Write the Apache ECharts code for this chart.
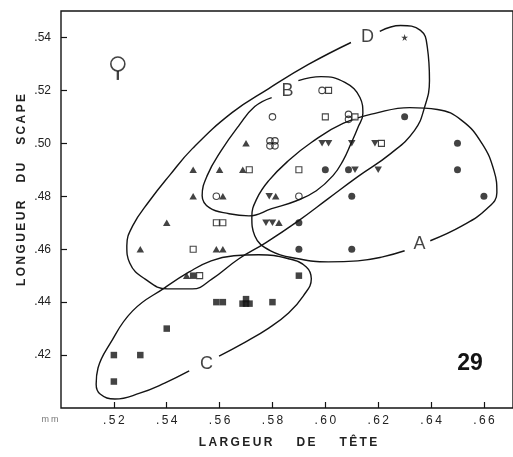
<!DOCTYPE html>
<html>
<head>
<meta charset="utf-8">
<script src="https://cdn.jsdelivr.net/npm/echarts@6/dist/echarts.min.js"></script>
<style>
  html, body { margin: 0; padding: 0; background: #fff; }
  #chart { width: 513px; height: 457px; }
</style>
</head>
<body>
<div id="chart"></div>
<script>
// points: [largeur de tête, longueur du scape] in mm
const filledCircles = [[0.63, 0.51], [0.65, 0.50], [0.65, 0.49], [0.66, 0.48], [0.60, 0.49], [0.61, 0.49], [0.61, 0.48], [0.59, 0.47], [0.59, 0.46], [0.61, 0.46]]
const openCircles = [[0.60, 0.52], [0.58, 0.51], [0.61, 0.51], [0.61, 0.51], [0.58, 0.50], [0.58, 0.50], [0.58, 0.50], [0.58, 0.50], [0.56, 0.48], [0.59, 0.48]]
const downTriangles = [[0.60, 0.50], [0.60, 0.50], [0.61, 0.50], [0.62, 0.50], [0.61, 0.49], [0.62, 0.49], [0.58, 0.48], [0.58, 0.47], [0.58, 0.47]]
const upTriangles = [[0.57, 0.50], [0.55, 0.49], [0.56, 0.49], [0.57, 0.49], [0.55, 0.48], [0.56, 0.48], [0.58, 0.48], [0.54, 0.47], [0.58, 0.47], [0.53, 0.46], [0.56, 0.46], [0.56, 0.46], [0.55, 0.45]]
const filledSquares = [[0.55, 0.45], [0.59, 0.45], [0.56, 0.44], [0.56, 0.44], [0.57, 0.44], [0.57, 0.44], [0.57, 0.44], [0.57, 0.44], [0.58, 0.44], [0.54, 0.43], [0.52, 0.42], [0.53, 0.42], [0.52, 0.41]]
const openSquares = [[0.60, 0.52], [0.60, 0.51], [0.61, 0.51], [0.62, 0.50], [0.57, 0.49], [0.59, 0.49], [0.56, 0.47], [0.56, 0.47], [0.55, 0.46], [0.55, 0.45]]
const stars = [[0.63, 0.54]]
const femaleSign = [[0.5215, 0.530]]

// hand-drawn envelopes (open where the letter sits)
const envelopeA = [[0.6397, 0.4632], [0.6517, 0.4688], [0.6611, 0.4753], [0.6649, 0.4813], [0.6638, 0.4897], [0.6593, 0.4999], [0.6517, 0.5086], [0.6424, 0.5128], [0.6319, 0.5135], [0.6199, 0.5116], [0.6067, 0.5075], [0.5947, 0.5003], [0.5861, 0.4935], [0.5786, 0.4859], [0.5741, 0.4791], [0.5722, 0.4723], [0.5733, 0.4651], [0.5793, 0.4594], [0.5898, 0.4564], [0.6011, 0.4552], [0.6123, 0.4556], [0.6217, 0.4571], [0.6300, 0.4594]]
const envelopeB = [[0.5898, 0.5237], [0.5984, 0.5252], [0.6074, 0.5230], [0.6131, 0.5173], [0.6142, 0.5112], [0.6123, 0.5059], [0.6097, 0.4999], [0.6067, 0.4935], [0.6029, 0.4878], [0.5966, 0.4821], [0.5891, 0.4783], [0.5797, 0.4753], [0.5711, 0.4726], [0.5636, 0.4734], [0.5561, 0.4757], [0.5534, 0.4802], [0.5553, 0.4878], [0.5606, 0.4972], [0.5673, 0.5067], [0.5733, 0.5139], [0.5797, 0.5173]]
const envelopeC = [[0.5598, 0.4196], [0.5692, 0.4246], [0.5786, 0.4302], [0.5861, 0.4359], [0.5917, 0.4424], [0.5947, 0.4488], [0.5928, 0.4533], [0.5861, 0.4564], [0.5748, 0.4579], [0.5654, 0.4575], [0.5568, 0.4556], [0.5485, 0.4514], [0.5392, 0.4454], [0.5271, 0.4367], [0.5185, 0.4242], [0.5140, 0.4151], [0.5133, 0.4090], [0.5148, 0.4053], [0.5204, 0.4034], [0.5298, 0.4056], [0.5392, 0.4094], [0.5485, 0.4140]]
const envelopeD = [[0.6206, 0.5423], [0.6285, 0.5445], [0.6360, 0.5427], [0.6386, 0.5362], [0.6394, 0.5237], [0.6375, 0.5135], [0.6337, 0.5048], [0.6247, 0.4961], [0.6123, 0.4874], [0.6011, 0.4791], [0.5898, 0.4707], [0.5774, 0.4624], [0.5673, 0.4564], [0.5572, 0.4488], [0.5497, 0.4450], [0.5403, 0.4450], [0.5317, 0.4488], [0.5260, 0.4548], [0.5249, 0.4613], [0.5271, 0.4688], [0.5335, 0.4783], [0.5410, 0.4878], [0.5497, 0.4980], [0.5647, 0.5116], [0.5786, 0.5207], [0.5936, 0.5298], [0.6097, 0.5381]]
const envelopeNames = ["A", "B", "C", "D"]
const envelopeNamePos = [[0.6356, 0.4620], [0.5857, 0.5196], [0.5550, 0.4166], [0.6160, 0.5400]]

const xTicks = { min: 0.50, max: 0.671, step: 0.02 }
const yTicks = { min: 0.40, max: 0.55, step: 0.02 }

const INK = "#141414"
const FONT = "Liberation Sans, Arial, sans-serif"

const spaced = (s, gap) =>
  s.split(" ").map((w) => [...w].join("\u2009")).join(gap || "\u2003\u2003")

// markers sharing a spot are set side by side, like in the drawing
const kinds = [
  { name: "filledCircles", data: filledCircles, symbol: "circle", size: 7, fill: INK, w: 6.5 },
  { name: "openCircles", data: openCircles, symbol: "circle", size: 6.5, fill: "rgba(0,0,0,0)", w: 6.5 },
  { name: "downTriangles", data: downTriangles, symbol: "triangle", size: [7.5, 6.5], fill: INK, w: 6.5, rotate: 180 },
  { name: "upTriangles", data: upTriangles, symbol: "triangle", size: [7.5, 6.5], fill: INK, w: 6.5 },
  { name: "filledSquares", data: filledSquares, symbol: "rect", size: 6.5, fill: INK, w: 6.5 },
  { name: "openSquares", data: openSquares, symbol: "rect", size: 6, fill: "#fff", w: 6.5 },
]

const offsets = kinds.map((k) => k.data.map(() => [0, 0]))
const spots = {}
kinds.forEach((k, ki) => {
  k.data.forEach((p, pi) => {
    const key = p[0].toFixed(2) + "," + p[1].toFixed(2)
    spots[key] = spots[key] || []
    let run = spots[key].find((r) => r.ki === ki)
    if (!run) {
      run = { ki, items: [] }
      spots[key].push(run)
    }
    run.items.push(pi)
  })
})
Object.values(spots).forEach((runs) => {
  const units = []
  runs.forEach((r) => {
    const k = kinds[r.ki]
    const n = r.items.length
    if (k.name === "openCircles" && n === 2) {
      units.push({ w: k.w, place: [[r.ki, r.items[0], 0, -2.5], [r.ki, r.items[1], 0, 2.5]] })
    } else if (k.name === "openCircles" && n === 4) {
      const d = [[-2.5, -2.5], [2.5, -2.5], [-2.5, 2.5], [2.5, 2.5]]
      units.push({ w: 10, place: r.items.map((pi, i) => [r.ki, pi, d[i][0], d[i][1]]) })
    } else if (k.name === "filledSquares" && n === 4) {
      const d = [[-3.5, 1.5], [0, 1.5], [3.5, 1.5], [0, -3]]
      units.push({ w: 12, place: r.items.map((pi, i) => [r.ki, pi, d[i][0], d[i][1]]) })
    } else {
      r.items.forEach((pi) => units.push({ w: k.w, place: [[r.ki, pi, 0, 0]] }))
    }
  })
  const total = units.reduce((s, u) => s + u.w, 0)
  let start = -total / 2
  units.forEach((u) => {
    const cx = start + u.w / 2
    u.place.forEach(([ki, pi, dx, dy]) => {
      offsets[ki][pi] = [cx + dx, dy]
    })
    start += u.w
  })
})

const markerSeries = kinds.map((k, ki) => ({
  name: k.name,
  type: "scatter",
  symbol: k.symbol,
  symbolSize: k.size,
  symbolRotate: k.rotate || 0,
  data: k.data.map((p, pi) => ({ value: p, symbolOffset: offsets[ki][pi] })),
  itemStyle: { color: k.fill, borderColor: INK, borderWidth: k.fill === INK ? 0 : 1.1 },
  z: 5,
}))

const envelopeSeries = [envelopeA, envelopeB, envelopeC, envelopeD].map((pts, i) => ({
  name: "envelope" + envelopeNames[i],
  type: "line",
  data: pts,
  smooth: 0.45,
  symbol: "none",
  silent: true,
  lineStyle: { color: INK, width: 1.4 },
  z: 3,
}))

const chart = echarts.init(document.getElementById("chart"), null, { renderer: "canvas" })

const option = {
  animation: false,
  backgroundColor: "#fff",
  textStyle: { fontFamily: FONT },
  grid: {
    left: 61,
    right: -3,
    top: 11,
    bottom: 49,
    show: true,
    borderColor: INK,
    borderWidth: 1.4,
  },
  xAxis: {
    type: "value",
    min: xTicks.min,
    max: xTicks.max,
    interval: xTicks.step,
    axisLine: { show: false },
    axisTick: { inside: true, length: 6, lineStyle: { color: INK, width: 1.2 } },
    splitLine: { show: false },
    axisLabel: {
      showMinLabel: false,
      showMaxLabel: false,
      margin: 7,
      fontSize: 12,
      color: "#222",
      fontFamily: FONT,
      formatter: (v) => spaced(v.toFixed(2).slice(1)),
    },
  },
  yAxis: {
    type: "value",
    min: yTicks.min,
    max: yTicks.max,
    interval: yTicks.step,
    axisLine: { show: false },
    axisTick: { inside: true, length: 6, lineStyle: { color: INK, width: 1.2 } },
    splitLine: { show: false },
    axisLabel: {
      showMinLabel: false,
      showMaxLabel: false,
      margin: 10,
      fontSize: 12,
      color: "#222",
      fontFamily: FONT,
      formatter: (v) => v.toFixed(2).slice(1),
    },
  },
  series: [
    ...envelopeSeries,
    ...markerSeries,
    {
      name: "stars",
      type: "scatter",
      symbol: "path://M50,0 L61,35 L98,35 L68,57 L79,91 L50,70 L21,91 L32,57 L2,35 L39,35 Z",
      symbolSize: 7,
      data: stars,
      itemStyle: { color: INK },
      z: 5,
    },
    {
      // female sign: ring plus stem below it
      name: "femaleRing",
      type: "scatter",
      symbol: "circle",
      symbolSize: 14,
      data: femaleSign,
      itemStyle: { color: "#fff", borderColor: INK, borderWidth: 1.6 },
      z: 5,
    },
    {
      name: "femaleStem",
      type: "scatter",
      symbol: "rect",
      symbolSize: [2.3, 9],
      symbolOffset: [0, 11.5],
      data: femaleSign,
      itemStyle: { color: INK },
      z: 5,
    },
    {
      name: "envelopeNames",
      type: "scatter",
      symbolSize: 0,
      silent: true,
      data: envelopeNamePos.map((p, i) => ({ value: p, name: envelopeNames[i] })),
      label: {
        show: true,
        position: "inside",
        formatter: (p) => p.name,
        fontSize: 18,
        color: INK,
        fontFamily: FONT,
      },
      z: 6,
    },
  ],
  graphic: [
    {
      type: "text",
      x: 288,
      y: 443,
      style: {
        text: spaced("LARGEUR DE TÊTE"),
        font: "bold 12px " + FONT,
        fill: "#222",
        textAlign: "center",
        textVerticalAlign: "middle",
        align: "center",
        verticalAlign: "middle",
      },
    },
    {
      type: "text",
      x: 22,
      y: 190,
      rotation: Math.PI / 2,
      style: {
        text: spaced("LONGUEUR DU SCAPE", "\u2003\u2002"),
        font: "bold 12px " + FONT,
        fill: "#222",
        textAlign: "center",
        textVerticalAlign: "middle",
        align: "center",
        verticalAlign: "middle",
      },
    },
    {
      type: "text",
      x: 50,
      y: 420,
      style: {
        text: "m\u2009m",
        font: "9px " + FONT,
        fill: "#777",
        textAlign: "center",
        textVerticalAlign: "middle",
        align: "center",
        verticalAlign: "middle",
      },
    },
    {
      type: "text",
      x: 470,
      y: 364,
      style: {
        text: "29",
        font: "bold 23px " + FONT,
        fill: INK,
        textAlign: "center",
        textVerticalAlign: "middle",
        align: "center",
        verticalAlign: "middle",
      },
    },
  ],
}

chart.setOption(option)
</script>
</body>
</html>
